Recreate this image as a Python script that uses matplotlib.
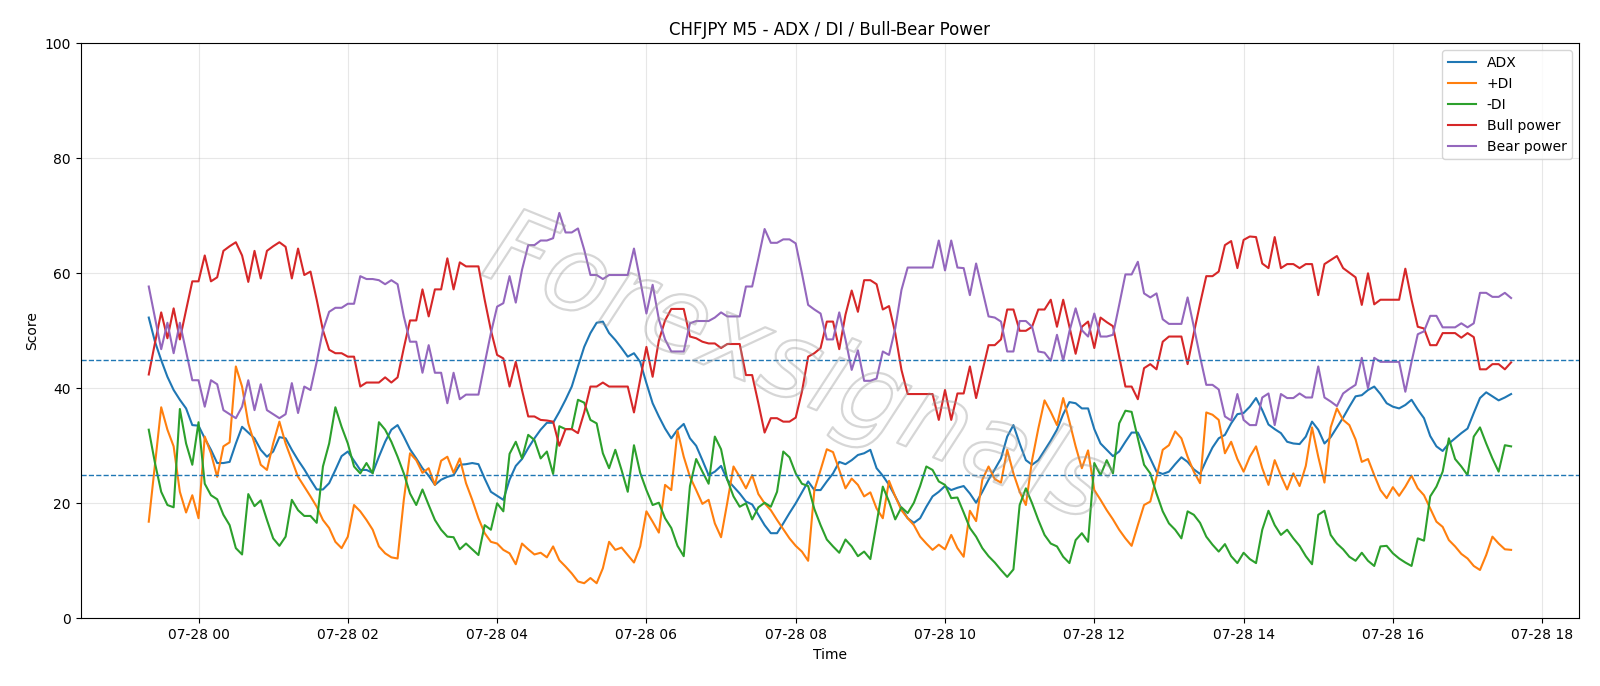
import matplotlib
matplotlib.use("Agg")
import matplotlib.pyplot as plt
import matplotlib.dates as mdates
import matplotlib.patheffects as pe
import pandas as pd

start_time = "2025-07-27 23:20"
n_points = 220

adx = [52.3, 48.1, 44.9, 42, 39.7, 38, 36.5, 33.6, 33.5, 31.3, 29.3, 27, 27, 27.2, 30.4, 33.3, 32.3, 31.3, 29.3, 28.1, 29, 31.5,
       31.3, 29.3, 27.5, 25.9, 24.1, 22.4, 22.4, 23.5, 25.8, 28.2, 29, 27.4, 25.8, 25.8, 25.3, 28.1, 30.7, 32.8, 33.6, 31.6, 29.4, 27.8,
       26.1, 24.8, 23.2, 24.1, 24.6, 24.9, 26.7, 26.8, 27, 26.8, 24.3, 22, 21.3, 20.6, 24.1, 26.5, 27.7, 29.6, 31.3, 32.8, 34, 34,
       35.9, 38, 40.3, 43.8, 47.2, 49.6, 51.4, 51.6, 49.6, 48.4, 47, 45.5, 46.1, 44.6, 40.9, 37.4, 35.1, 33, 31.3, 32.8, 33.8, 31.3,
       30, 27.5, 24.9, 25.5, 26.5, 24.1, 22.9, 21.7, 20.3, 19.8, 18, 16.2, 14.8, 14.8, 16.5, 18.3, 20, 21.9, 23.8, 22.3, 22.3, 23.8, 25.2,
       27.2, 26.8, 27.5, 28.4, 28.7, 29.3, 26.1, 24.8, 23.2, 21.2, 19.1, 17.4, 16.6, 17.4, 19.4, 21.2, 22, 23, 22.3, 22.7, 23, 21.7,
       20.1, 22, 24.1, 25.9, 27.8, 31.6, 33.6, 30.4, 27.5, 26.7, 27.5, 29.2, 30.9, 32.8, 35.5, 37.6, 37.4, 36.5, 36.5, 32.9, 30.4, 29.3,
       28.2, 29, 30.7, 32.3, 32.3, 30.1, 27.8, 25.5, 25.1, 25.5, 26.8, 28, 27.2, 25.9, 25.1, 27.5, 29.7, 31.3, 31.9, 33.9, 35.5, 35.7,
       36.8, 38.3, 36.2, 33.7, 32.9, 32.2, 30.7, 30.4, 30.3, 31.6, 34.2, 32.8, 30.4, 31.5, 33.2, 34.9, 36.8, 38.6, 38.8, 39.7, 40.3, 39,
       37.4, 36.8, 36.5, 37.1, 38, 36.3, 34.8, 31.7, 29.9, 29.1, 30.4, 31.3, 32.2, 33, 35.7, 38.3, 39.3, 38.6, 37.9, 38.4, 39]

plus_di = [16.8, 26.8, 36.7, 32.8, 29.9, 22, 18.4, 21.4, 17.4, 31.6, 28.7, 24.6, 29.9, 30.6, 43.8, 40.3, 33.9, 30.4, 26.7, 25.8, 30.4, 34.2,
           30.4, 27.5, 24.6, 22.9, 21.2, 19.4, 17.1, 15.7, 13.3, 12.2, 14.2, 19.7, 18.6, 17.1, 15.4, 12.5, 11.3, 10.6, 10.4, 20.6, 28.7, 27.5,
           25.3, 26.1, 23.2, 27.4, 28.1, 25.3, 27.8, 23.5, 20.6, 17.4, 14.8, 13.3, 13, 11.9, 11.3, 9.4, 13, 12, 11.1, 11.4, 10.6, 12.5,
           10.1, 9, 7.8, 6.4, 6.1, 7, 6.1, 8.7, 13.3, 11.9, 12.3, 11, 9.7, 12.5, 18.6, 16.8, 14.9, 23.2, 22.3, 32.6, 28.1, 24.6,
           22.3, 19.9, 20.6, 16.5, 14.1, 20.1, 26.4, 24.6, 22.6, 24.9, 21.6, 20, 18.8, 17.1, 15.5, 13.9, 12.6, 11.6, 10, 22.3, 25.8, 29.4, 28.9,
           25.8, 22.6, 24.3, 23.2, 21.2, 21.9, 19.1, 17.4, 23.9, 21.2, 18.8, 17.4, 16.2, 14.2, 13, 11.9, 12.8, 12, 14.5, 12.2, 10.7, 18.7,
           16.9, 24.1, 26.4, 24.2, 23.6, 29.3, 25.2, 22, 19.7, 27.5, 33, 37.9, 35.9, 33.6, 38.3, 34.2, 29.9, 26.1, 29.2, 22.3, 20.6, 18.8,
           17.2, 15.4, 13.9, 12.6, 16.2, 19.7, 20.3, 24.6, 29.3, 30.1, 32.5, 31.3, 28.1, 25.5, 23.5, 35.8, 35.4, 34.5, 28.7, 30.7, 27.7, 25.5,
           28.1, 29.9, 26.1, 23.2, 27.5, 24.8, 22.4, 25.2, 23, 26.5, 33.2, 28.1, 23.6, 33.2, 36.5, 34.5, 33.6, 31.1, 27.2, 27.7, 24.9, 22.3,
           20.9, 22.8, 21.3, 22.9, 24.8, 22.6, 21.4, 19.1, 16.8, 15.9, 13.6, 12.5, 11.2, 10.4, 9.1, 8.4, 11, 14.2, 13, 12, 11.9]

minus_di = [32.8, 27, 22, 19.7, 19.3, 36.4, 30.4, 26.7, 34.1, 23.4, 21.4, 20.7, 18, 16.2, 12.2, 11.1, 21.6, 19.5, 20.5, 17.1, 13.9, 12.6,
            14.2, 20.6, 18.8, 17.8, 17.8, 16.6, 26.4, 30.4, 36.7, 33.3, 30.4, 26.4, 25.2, 27, 25.2, 34.1, 32.8, 30.7, 28.1, 25.2, 21.7, 19.7,
            22.4, 19.7, 17.1, 15.4, 14.2, 14.1, 12, 13, 12, 11, 16.2, 15.4, 20, 18.6, 28.6, 30.7, 27.8, 31.9, 31, 27.8, 29, 25.1,
            33.4, 32.9, 32.9, 38, 37.5, 34.5, 33.9, 28.7, 26.1, 29.3, 25.8, 22, 30.1, 25.3, 22.3, 19.7, 20.1, 17.4, 15.7, 12.6, 10.8, 23,
            27.7, 25.5, 23.4, 31.6, 29.4, 24.1, 21.2, 19.4, 20, 17.2, 19.3, 20.1, 19.4, 22, 29, 28, 25.2, 23.4, 23, 19, 16.2, 13.7, 12.5,
            11.4, 13.7, 12.5, 10.8, 11.6, 10.3, 16.5, 22.9, 20.3, 17.2, 19.3, 18.3, 20.1, 23, 26.4, 25.8, 23.8, 23.2, 20.9, 21, 18.4, 15.7,
            14.2, 12.2, 10.8, 9.7, 8.4, 7.2, 8.5, 19.7, 22.6, 20, 17.1, 14.5, 13, 12.5, 10.7, 9.6, 13.6, 14.8, 13.3, 27, 24.9, 27.5,
            25.2, 33.9, 36.1, 35.9, 31.3, 26.7, 25.2, 21.7, 18.6, 16.5, 15.4, 13.9, 18.6, 18, 16.6, 14.2, 12.8, 11.6, 12.9, 10.8, 9.6, 11.4,
            10.3, 9.6, 15.4, 18.7, 16.2, 14.5, 15.4, 13.9, 12.6, 10.8, 9.4, 18, 18.7, 14.5, 13, 12, 10.7, 10, 11.4, 10, 9.1, 12.5,
            12.6, 11.3, 10.4, 9.7, 9.1, 13.9, 13.5, 21.2, 22.9, 25.5, 31.3, 27.7, 26.4, 24.9, 31.6, 33.2, 30.4, 27.8, 25.5, 30.1, 29.9]

bull_power = [42.4, 47.9, 53.2, 48.7, 53.9, 48.5, 53.6, 58.6, 58.6, 63.1, 58.6, 59.3, 63.9, 64.7, 65.4, 63.1, 58.5, 63.9, 59.1, 63.9, 64.7, 65.4,
              64.6, 59.1, 64.3, 59.7, 60.3, 55.4, 50.1, 46.7, 46.1, 46.1, 45.5, 45.5, 40.3, 41, 41, 41, 41.9, 41, 41.9, 47, 51.8, 51.8,
              57.2, 52.5, 57.2, 57.2, 62.6, 57.2, 61.9, 61.2, 61.2, 61.2, 55.4, 50.1, 45.8, 45.2, 40.3, 44.6, 39.7, 35.1, 35.1, 34.5, 34.4, 34.2,
              30, 32.9, 32.9, 32.2, 35.8, 40.3, 40.3, 41, 40.3, 40.3, 40.3, 40.3, 35.8, 41.5, 47.2, 42, 48.3, 51.8, 53.8, 53.8, 53.8, 49,
              48.7, 48.1, 47.8, 47.8, 47, 47.7, 47.7, 47.7, 42.3, 42.3, 37.4, 32.3, 34.8, 34.8, 34.2, 34.2, 34.9, 39.4, 45.5, 46.1, 47, 51.6, 51.6,
              46.8, 52.8, 57, 53.3, 58.8, 58.8, 58.1, 53.7, 54.3, 49.6, 43.2, 39, 39, 39, 39, 39, 34.5, 39.7, 34.5, 39.1, 39.1, 43.8,
              38.3, 42.9, 47.5, 47.5, 48.5, 53.7, 53.7, 50, 50, 50.7, 53.7, 53.7, 55.4, 50.7, 55.4, 50.7, 46, 50.7, 51.6, 47, 52.3, 51.5,
              50.8, 45.5, 40.3, 40.3, 38.1, 43.5, 44.2, 43.3, 48.1, 49, 49, 49, 44.2, 49.6, 54.7, 59.5, 59.5, 60.3, 64.9, 65.6, 60.9, 65.8,
              66.4, 66.3, 61.7, 60.9, 66.3, 60.9, 61.6, 61.6, 60.9, 61.6, 61.6, 56.2, 61.6, 62.3, 63, 60.9, 60.1, 59.3, 54.5, 60, 54.6, 55.4,
              55.4, 55.4, 55.4, 60.8, 55.4, 50.7, 50.4, 47.5, 47.5, 49.6, 49.6, 49.6, 48.8, 49.6, 48.9, 43.3, 43.3, 44.2, 44.2, 43.3, 44.5]

bear_power = [57.7, 52.2, 46.8, 51.4, 46.1, 51.4, 46.4, 41.4, 41.4, 36.8, 41.4, 40.7, 36.2, 35.5, 34.8, 36.8, 41.4, 36.2, 40.7, 36.2, 35.5, 34.8,
              35.5, 40.9, 35.7, 40.3, 39.7, 44.6, 50.1, 53.3, 54, 54, 54.7, 54.7, 59.5, 59, 59, 58.8, 58.1, 58.8, 58.1, 52.5, 48.1, 48.1,
              42.7, 47.5, 42.7, 42.7, 37.4, 42.7, 38.1, 38.9, 38.9, 38.9, 44.3, 49.6, 54.2, 54.8, 59.5, 54.9, 60.6, 64.9, 64.9, 65.7, 65.7, 66.1,
              70.5, 67.1, 67.1, 67.8, 64.1, 59.7, 59.7, 59, 59.7, 59.7, 59.7, 59.7, 64.3, 58.8, 53, 58, 52, 48.5, 46.4, 46.4, 46.4, 51.3,
              51.7, 51.7, 51.7, 52.3, 53.2, 52.5, 52.5, 52.5, 57.7, 57.7, 62.6, 67.7, 65.3, 65.3, 65.9, 65.9, 65.2, 60, 54.5, 53.7, 53, 48.5, 48.5,
              53.2, 48.5, 43.2, 46.6, 41.3, 41.3, 41.7, 46.4, 45.8, 50.4, 57.1, 61, 61, 61, 61, 61, 65.7, 60.5, 65.7, 61, 60.9, 56.2,
              61.7, 57.1, 52.5, 52.3, 51.6, 46.4, 46.4, 51.7, 51.7, 50.7, 46.4, 46.2, 44.8, 49.3, 44.8, 49.9, 53.9, 50.1, 49, 53, 49, 49,
              49.3, 54.5, 59.8, 59.8, 62, 56.5, 55.8, 56.5, 52, 51.2, 51.2, 51.2, 55.8, 50.7, 45.5, 40.6, 40.6, 39.8, 35.1, 34.4, 39, 34.5,
              33.6, 33.6, 38.4, 39.1, 33.6, 39, 38.3, 38.3, 39.1, 38.4, 38.4, 43.8, 38.4, 37.7, 36.9, 39.1, 39.9, 40.6, 45.3, 40, 45.3, 44.6,
              44.6, 44.6, 44.6, 39.4, 44.6, 49.4, 49.9, 52.6, 52.6, 50.6, 50.6, 50.6, 51.3, 50.6, 51.3, 56.6, 56.6, 55.9, 55.9, 56.6, 55.7]

upper_level = 45
lower_level = 25
watermark = "Forexsignals"

times = pd.date_range(start_time, periods=n_points, freq="5min")

fig = plt.figure(figsize=(16, 6.86), dpi=100)
ax = fig.add_axes([0.0504, 0.0987, 0.9366, 0.8382])

ax.plot(times, adx, label="ADX", color="C0", lw=1.5)
ax.plot(times, plus_di, label="+DI", color="C1", lw=1.5)
ax.plot(times, minus_di, label="-DI", color="C2", lw=1.5)
ax.plot(times, bull_power, label="Bull power", color="C3", lw=1.5)
ax.plot(times, bear_power, label="Bear power", color="C4", lw=1.5)
ax.axhline(upper_level, color="C0", ls="--", lw=1.0)
ax.axhline(lower_level, color="C0", ls="--", lw=1.0)

ax.set_ylim(0, 100)
ax.set_title("CHFJPY M5 - ADX / DI / Bull-Bear Power")
ax.set_xlabel("Time")
ax.set_ylabel("Score")
ax.grid(True, alpha=0.3)
ax.xaxis.set_major_locator(mdates.HourLocator(interval=2))
ax.xaxis.set_major_formatter(mdates.DateFormatter("%m-%d %H"))
ax.legend(loc="upper right")

ax.text(0.478, 0.43, watermark, transform=ax.transAxes, fontsize=76,
        rotation=-22, ha="center", va="center", style="italic",
        color=(1, 1, 1, 0),
        path_effects=[pe.Stroke(linewidth=1.6, foreground=(0.6, 0.6, 0.6, 0.4))])

fig.savefig("out.png", dpi=100)
